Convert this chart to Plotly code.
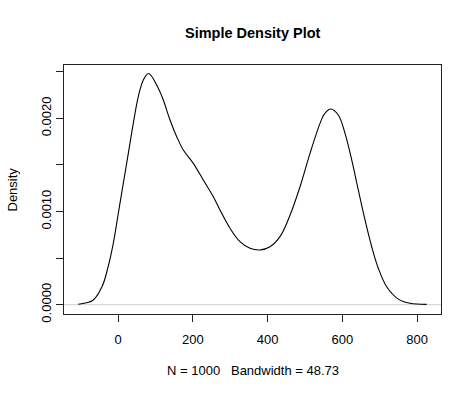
import plotly.graph_objects as go

# Density curve values
x_vals = [-106.2, -85.0, -66.1, -42.0, -27.6, -12.6, 0.8, 14.2, 27.6, 40.9, 54.3, 67.7, 82.0,
          107.8, 121.2, 139.1, 157.1, 174.7, 201.5, 228.2, 255.0, 272.9, 299.7, 326.4,
          353.2, 379.9, 406.7, 433.4, 460.2, 487.0, 513.7, 540.5, 552.0, 569.1, 589.4,
          607.4, 625.3, 642.9, 660.9, 678.8, 696.5, 718.9, 750.0, 781.3, 826.0]
y_vals = [0.000005, 0.00002, 0.00005, 0.0002, 0.00039, 0.000659, 0.000981, 0.001303, 0.001624,
          0.001946, 0.002232, 0.002411, 0.00248, 0.002322, 0.002196, 0.001982, 0.001803,
          0.00166, 0.001517, 0.001338, 0.001159, 0.001016, 0.00082, 0.000676, 0.000605,
          0.000587, 0.000622, 0.00073, 0.00096, 0.001266, 0.001624, 0.001946, 0.002045,
          0.0021, 0.002035, 0.001839, 0.001553, 0.001231, 0.000909, 0.000622, 0.000391,
          0.000193, 0.00006, 0.000015, 0.000003]

x_ticks = [0, 200, 400, 600, 800]
x_tick_labels = ["0", "200", "400", "600", "800"]
y_ticks = [0, 0.0005, 0.001, 0.0015, 0.002, 0.0025]
y_tick_labels = ["0.0000", "", "0.0010", "", "0.0020", ""]

title_text = "Simple Density Plot"
x_label = "N = 1000   Bandwidth = 48.73"
y_label = "Density"

FONT = "Liberation Sans, Arial, sans-serif"

fig = go.Figure()
fig.add_trace(go.Scatter(x=x_vals, y=y_vals, mode="lines",
                         line=dict(color="black", width=1.1, shape="spline", smoothing=1.0),
                         hoverinfo="skip", showlegend=False))

fig.add_shape(type="line", xref="paper", yref="y", x0=0, x1=1, y0=0, y1=0,
              line=dict(color="#cfcfcf", width=1), layer="below")

fig.update_layout(
    width=474, height=395,
    margin=dict(l=64, r=33, t=65, b=81, autoexpand=False),
    paper_bgcolor="white", plot_bgcolor="white",
    font=dict(family=FONT, color="black", size=13),
    showlegend=False,
)
fig.update_xaxes(range=[-144.5, 864.2], showgrid=False, zeroline=False, automargin=False,
                 showline=True, mirror=True, linecolor="#222", linewidth=1,
                 tickmode="array", tickvals=x_ticks, ticktext=x_tick_labels,
                 ticks="outside", ticklen=7, tickcolor="#222", tickwidth=1,
                 ticklabelstandoff=6,
                 tickfont=dict(size=13, family=FONT, color="black"))
fig.update_yaxes(range=[-0.0000998, 0.002572], showgrid=False, zeroline=False, automargin=False,
                 showline=True, mirror=True, linecolor="#222", linewidth=1,
                 tickmode="array", tickvals=y_ticks, ticktext=y_tick_labels,
                 ticks="outside", ticklen=7, tickcolor="#222", tickwidth=1,
                 tickangle=-90,
                 tickfont=dict(size=13, family=FONT, color="black"))

fig.add_annotation(text="<b>" + title_text + "</b>", xref="paper", yref="paper",
                   x=0.5, y=1, yshift=32, yanchor="middle", xanchor="center",
                   showarrow=False, font=dict(size=14.5, family=FONT, color="black"))
fig.add_annotation(text=x_label, xref="paper", yref="paper",
                   x=0.5, y=0, yshift=-56, yanchor="middle", xanchor="center",
                   showarrow=False, font=dict(size=13, family=FONT, color="black"))
fig.add_annotation(text=y_label, xref="paper", yref="paper",
                   x=0, y=0.5, xshift=-52, xanchor="center", yanchor="middle",
                   textangle=-90, showarrow=False,
                   font=dict(size=13, family=FONT, color="black"))

fig.write_html("out.html",
               config={"displayModeBar": False, "staticPlot": True},
               post_script="document.body.style.margin='0';document.body.style.overflow='hidden';")
